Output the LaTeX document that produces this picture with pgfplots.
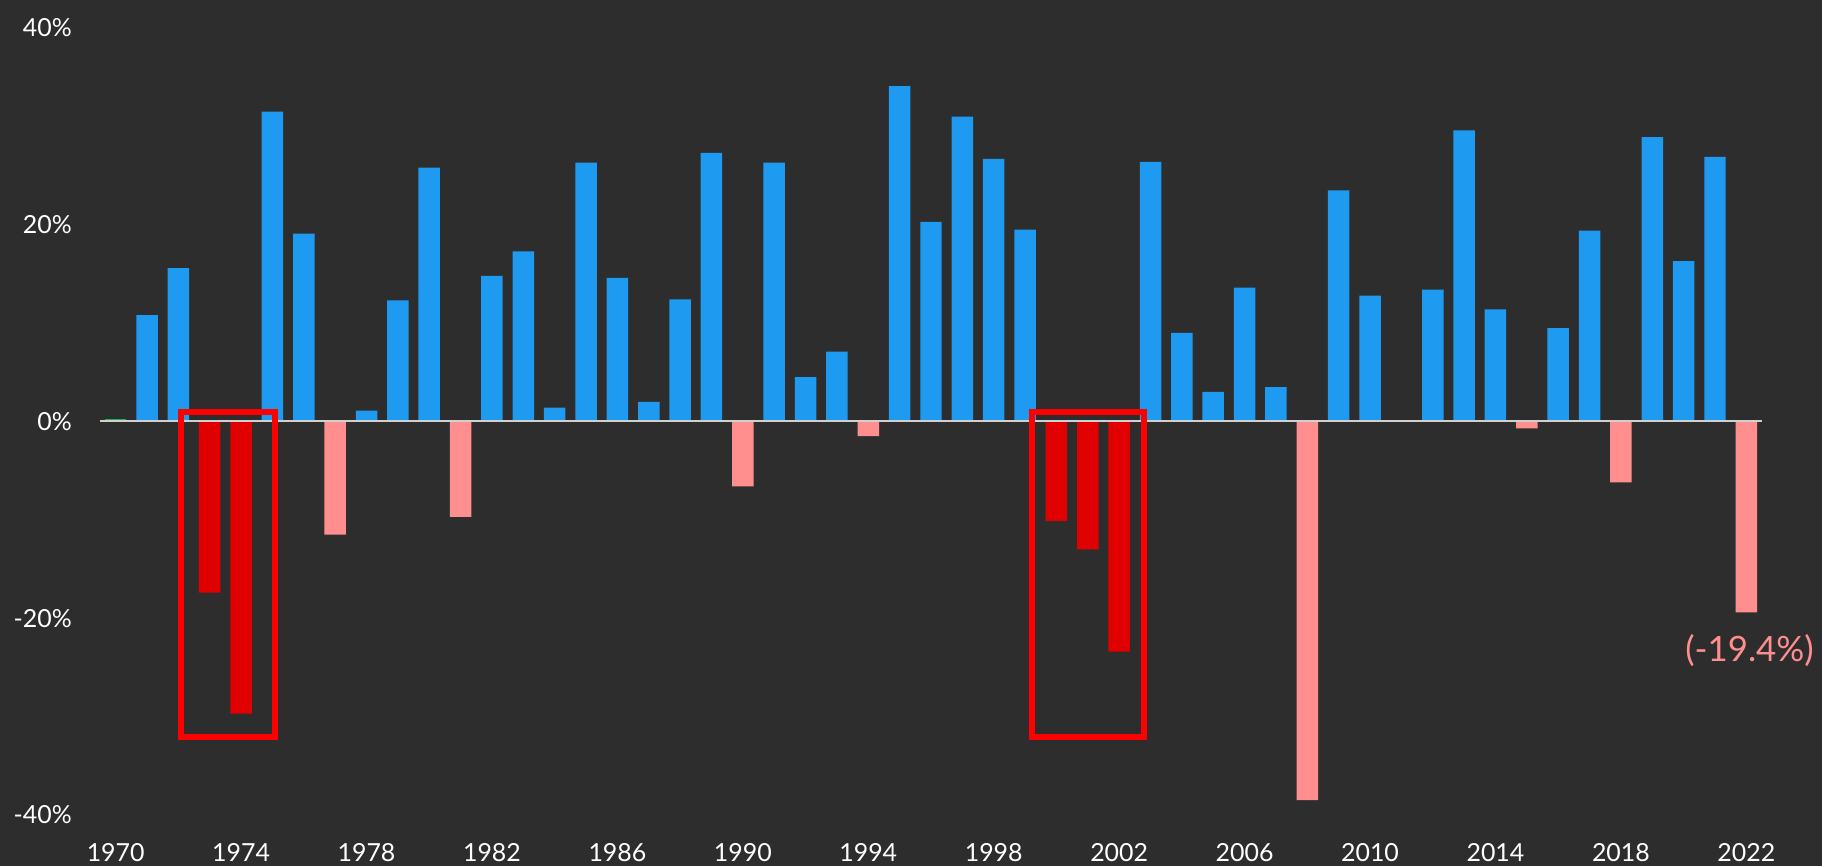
\documentclass[border=0pt]{standalone}
\usepackage{fontspec}
\setmainfont{Lato}
\usepackage{pgfplots}
\pgfplotsset{compat=1.18}
\usetikzlibrary{backgrounds}
\definecolor{bg}{HTML}{2D2D2D}
\definecolor{barblue}{HTML}{1E9BF0}
\definecolor{barred}{HTML}{E00000}
\definecolor{barpink}{HTML}{FF8F8F}
\definecolor{bargreen}{HTML}{1DB257}
\definecolor{zline}{HTML}{D0D0D0}
\definecolor{boxred}{HTML}{FF0000}
\begin{document}
\begin{tikzpicture}
\begin{axis}[
  x=31.37bp, y=9.84bp,
  xmin=1969.5, xmax=2022.5, ymin=-40, ymax=40,
  enlargelimits=false, clip=false,
  axis line style={draw=none},
  major tick length=0pt,
  xtick={1970,1974,1978,1982,1986,1990,1994,1998,2002,2006,2010,2014,2018,2022},
  xticklabels={1970,1974,1978,1982,1986,1990,1994,1998,2002,2006,2010,2014,2018,2022},
  ytick={-40,-20,0,20,40},
  yticklabels={-40\%,-20\%,0\%,20\%,40\%},
  /pgf/number format/assume math mode=true,
  xticklabel style={font=\fontsize{25}{30}\selectfont, text=white, anchor=base, inner sep=0pt, yshift=-47bp},
  yticklabel style={font=\fontsize{25}{30}\selectfont, text=white, anchor=east, inner sep=0pt, xshift=-28bp},
]
\coordinate (LL) at (axis cs:1969.5,-40);
\coordinate (UR) at (axis cs:2022.5,40);
% positive years
\addplot[ybar, bar width=21.5bp, fill=barblue, draw=none] coordinates {
(1971,10.8) (1972,15.6) (1975,31.5) (1976,19.1) (1978,1.1) (1979,12.3) (1980,25.8)
(1982,14.8) (1983,17.3) (1984,1.4) (1985,26.3) (1986,14.6) (1987,2.0) (1988,12.4)
(1989,27.3) (1991,26.3) (1992,4.5) (1993,7.1) (1995,34.1) (1996,20.3) (1997,31.0)
(1998,26.7) (1999,19.5) (2003,26.4) (2004,9.0) (2005,3.0) (2006,13.6) (2007,3.5)
(2009,23.5) (2010,12.8) (2012,13.4) (2013,29.6) (2014,11.4) (2016,9.5) (2017,19.4)
(2019,28.9) (2020,16.3) (2021,26.9)
};
% consecutive down years
\addplot[ybar, bar width=21.5bp, fill=barred, draw=none] coordinates {
(1973,-17.4) (1974,-29.7) (2000,-10.1) (2001,-13.0) (2002,-23.4)
};
% other down years
\addplot[ybar, bar width=21.5bp, fill=barpink, draw=none] coordinates {
(1977,-11.5) (1981,-9.7) (1990,-6.6) (1994,-1.5) (2008,-38.5) (2011,0.1)
(2015,-0.7) (2018,-6.2) (2022,-19.4)
};
% flat year
\addplot[ybar, bar width=21.5bp, fill=bargreen, draw=none] coordinates {
(1970,0.3)
};
\draw[zline, line width=2bp] (axis cs:1969.5,0) -- (axis cs:2022.5,0);
\draw[boxred, line width=6bp] (axis cs:1972.08,1.0) rectangle (axis cs:1975.08,-32.1);
\draw[boxred, line width=6bp] (axis cs:1999.21,1.0) rectangle (axis cs:2002.78,-32.1);
\node[text=barpink, font=\fontsize{35}{42}\selectfont, inner sep=0pt, anchor=center] at (axis cs:2022.1,-23.3) {(-19.4\%)};
\end{axis}
\begin{scope}[on background layer]
\fill[bg] ([shift={(-100bp,-51bp)}]LL) rectangle ([shift={(60bp,28bp)}]UR);
\end{scope}
\end{tikzpicture}
\end{document}
